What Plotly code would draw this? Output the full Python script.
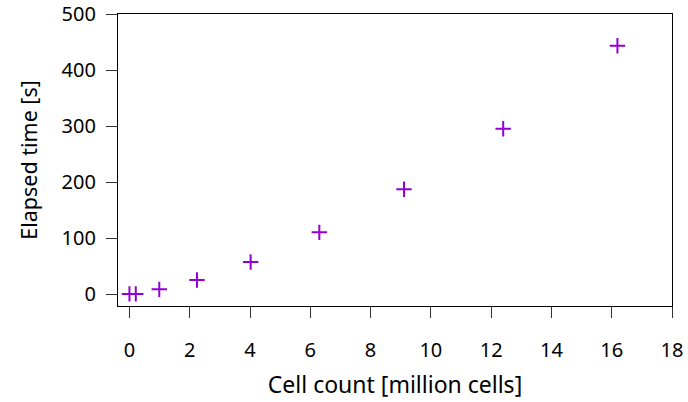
import plotly.graph_objects as go

cells_million = [0.0, 0.21, 0.99, 2.24, 4.02, 6.30, 9.11, 12.40, 16.19]
elapsed_s = [0.8, 0.8, 8.9, 25.5, 57.6, 110.6, 187.5, 295.4, 443.5]

x_ticks = [0, 2, 4, 6, 8, 10, 12, 14, 16, 18]
y_ticks = [0, 100, 200, 300, 400, 500]

FONT = "Noto Sans"
FS = 20

fig = go.Figure()
fig.add_trace(go.Scatter(
    x=cells_million, y=elapsed_s, mode="markers",
    marker=dict(symbol="cross-thin", size=11, color="#9400d3",
                line=dict(width=2, color="#9400d3")),
    showlegend=False, cliponaxis=False,
))

axis_common = dict(
    showline=True, linecolor="black", linewidth=1.2, mirror=True,
    ticks="outside", ticklen=11, tickwidth=1.2, tickcolor="#333",
    showgrid=False, zeroline=False, automargin=False,
    tickfont=dict(family=FONT, size=FS, color="black"),
)

fig.update_layout(
    width=688, height=402,
    margin=dict(l=118, r=16, t=14, b=96),
    paper_bgcolor="white", plot_bgcolor="white",
    font=dict(family=FONT, size=FS, color="black"),
    xaxis=dict(range=[-0.38, 18], tickvals=x_ticks, ticklabelstandoff=15,
               title=dict(text="Cell count [million cells]", standoff=14,
                          font=dict(family=FONT, size=23)),
               **axis_common),
    yaxis=dict(range=[-20.8, 500], tickvals=y_ticks, ticklabelstandoff=6,
               title=dict(text="Elapsed time [s]", standoff=18,
                          font=dict(family=FONT, size=21.5)),
               **axis_common),
)

fig.write_html("out.html", config={"displayModeBar": False},
               post_script="document.body.style.margin='0';document.body.style.padding='0';")
